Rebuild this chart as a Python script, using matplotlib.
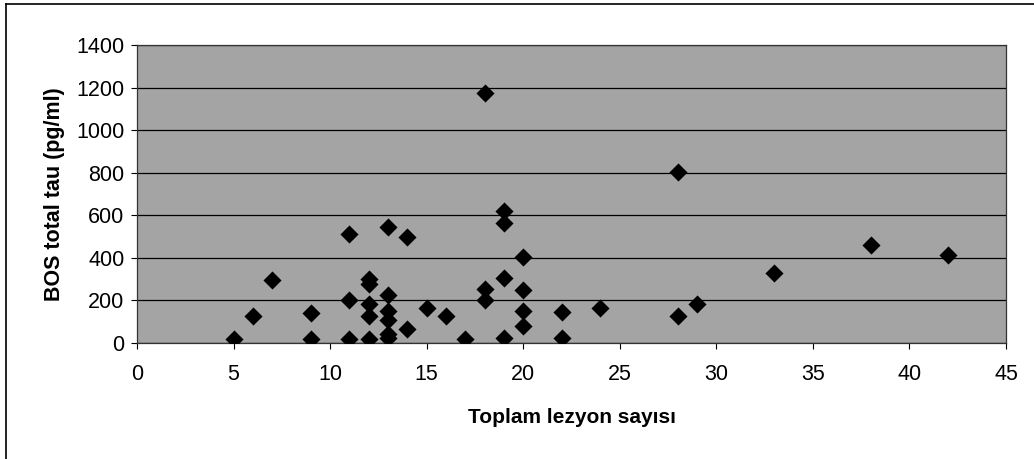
import matplotlib.pyplot as plt
from matplotlib.lines import Line2D

plt.rcParams['font.family'] = ['Liberation Sans', 'DejaVu Sans']

# lezyon sayisi vs BOS total tau
lezyon = [5, 6, 7, 9, 9, 11, 11, 11, 12, 12, 12, 12, 12,
          13, 13, 13, 13, 13, 13, 14, 14, 15, 16, 17,
          18, 18, 18, 19, 19, 19, 19, 20, 20, 20, 20,
          22, 22, 24, 28, 28, 29, 33, 38, 42]
tau = [19, 125, 294, 141, 19, 513, 200, 19, 300, 275, 184, 128, 19,
       547, 227, 149, 110, 40, 22, 500, 67, 164, 128, 19,
       1173, 253, 200, 618, 566, 305, 22, 402, 250, 149, 81,
       144, 22, 164, 805, 128, 184, 328, 461, 413]

x_ticks = [0, 5, 10, 15, 20, 25, 30, 35, 40, 45]
y_ticks = [0, 200, 400, 600, 800, 1000, 1200, 1400]

fig = plt.figure(figsize=(10.34, 4.59), dpi=100)
ax = fig.add_axes([137 / 1034, 1 - 343 / 459, (1006 - 137) / 1034, (343 - 45) / 459])

ax.set_facecolor('#a4a4a4')
ax.scatter(lezyon, tau, marker='D', s=85, color='black', zorder=3, linewidths=0)

ax.set_xlim(0, 45)
ax.set_ylim(0, 1400)
ax.set_xticks(x_ticks)
ax.set_yticks(y_ticks)
ax.yaxis.grid(True, color='black', linewidth=0.9)
ax.set_axisbelow(True)
ax.tick_params(axis='both', labelsize=15.5, length=4, width=0.8, direction='out', pad=11)
ax.tick_params(axis='y', pad=5)
for s in ax.spines.values():
    s.set_linewidth(0.9)
    s.set_color('#333333')

ax.set_xlabel('Toplam lezyon sayısı', fontsize=15, fontweight='bold', labelpad=17)
ax.set_ylabel('BOS total tau (pg/ml)', fontsize=15.5, fontweight='bold', labelpad=8)

# cerceve
fig.add_artist(Line2D([6 / 1034, 1], [1 - 4 / 459, 1 - 4 / 459], color='black', linewidth=1.2))
fig.add_artist(Line2D([6 / 1034, 6 / 1034], [0, 1 - 4 / 459], color='black', linewidth=1.2))

fig.savefig('out.png', dpi=100)
